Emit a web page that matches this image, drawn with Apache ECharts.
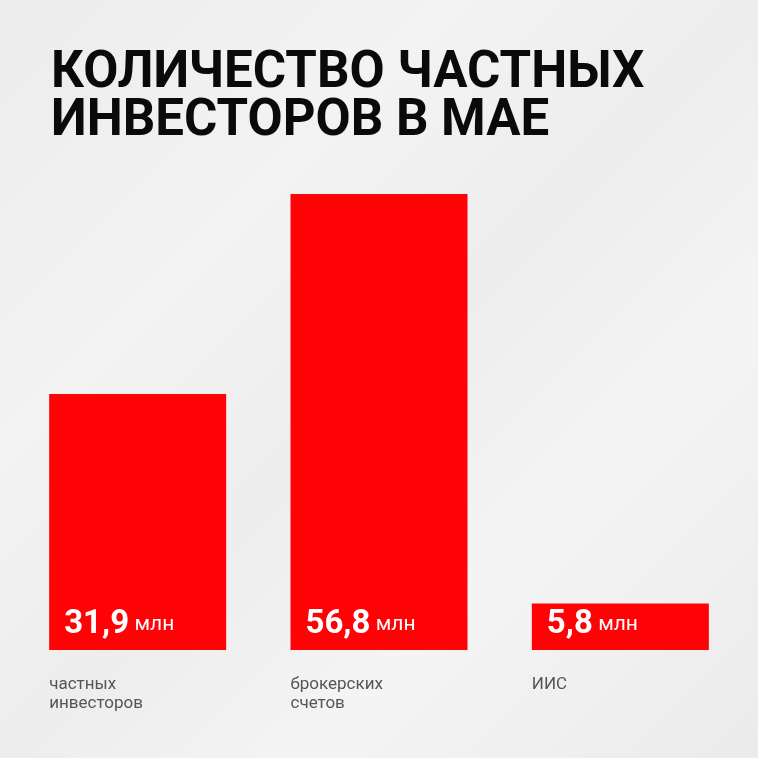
<!DOCTYPE html>
<html>
<head>
<meta charset="utf-8">
<script src="https://cdn.jsdelivr.net/npm/echarts@6/dist/echarts.min.js"></script>
<style>html,body{margin:0;padding:0;}#c{width:758px;height:758px;}</style>
</head>
<body>
<div id="c"></div>
<script>
const titleText = 'КОЛИЧЕСТВО ЧАСТНЫХ\nИНВЕСТОРОВ В МАЕ';
const categories = ['частных\nинвесторов', 'брокерских\nсчетов', 'ИИС'];
const values = [31.9, 56.8, 5.8];
const unit = 'млн';

const chart = echarts.init(document.getElementById('c'));
chart.setOption({
  animation: false,
  backgroundColor: {
    type: 'linear', x: 0, y: 0, x2: 1, y2: 1,
    colorStops: [
      {offset: 0, color: '#ececec'},
      {offset: 0.3, color: '#f3f3f3'},
      {offset: 0.5, color: '#ededed'},
      {offset: 0.7, color: '#f4f4f4'},
      {offset: 1, color: '#ebebeb'}
    ]
  },
  title: {
    text: titleText,
    left: 46, top: 45,
    textStyle: {fontFamily: 'Roboto', fontWeight: 'bold', fontSize: 51, lineHeight: 48, color: '#0a0a0a'}
  },
  grid: {left: 17, right: 17, top: 194, bottom: 108},
  xAxis: {
    type: 'category', data: categories,
    axisLine: {show: false}, axisTick: {show: false}, axisLabel: {show: false}
  },
  yAxis: {type: 'value', min: 0, max: 56.8, show: false, splitLine: {show: false}},
  series: [
    {
      type: 'bar', data: values, barWidth: 177,
      itemStyle: {color: '#ff0206'},
      label: {
        show: true, position: 'insideBottomLeft', distance: 0, offset: [15, -9],
        formatter: p => '{a|' + String(p.value).replace('.', ',') + '} {b|' + unit + '}',
        rich: {
          a: {fontFamily: 'Roboto', fontWeight: 'bold', fontSize: 33, color: '#fff'},
          b: {fontFamily: 'Roboto', fontSize: 21, color: '#fff', padding: [0, 0, 0, 2]}
        }
      }
    },
    {
      type: 'bar', data: values, barWidth: 177, barGap: '-100%',
      itemStyle: {color: 'rgba(0,0,0,0)'}, silent: true,
      label: {
        show: true, position: 'bottom', distance: 25, align: 'left', offset: [-88.5, 0],
        formatter: p => p.name,
        fontFamily: 'Roboto', fontSize: 17, lineHeight: 19, color: '#555'
      }
    }
  ]
});
</script>
</body>
</html>
